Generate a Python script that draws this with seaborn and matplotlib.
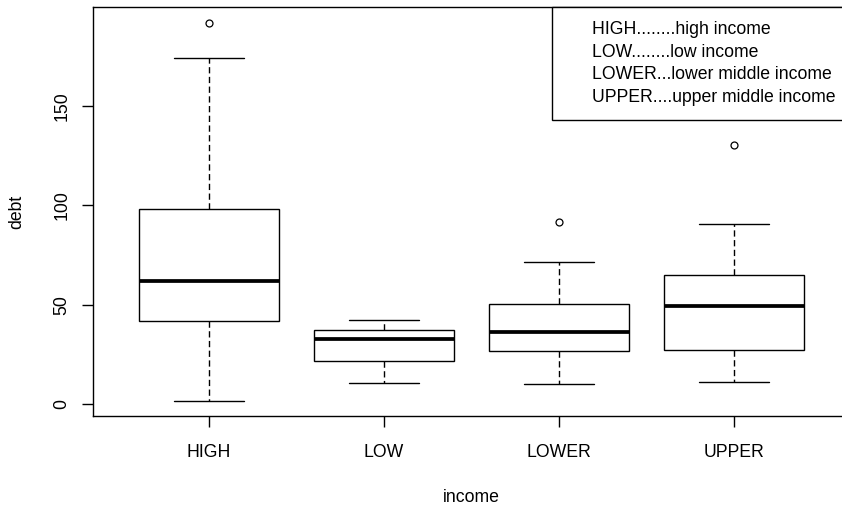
import matplotlib
matplotlib.use("Agg")
import matplotlib.pyplot as plt
from matplotlib.lines import Line2D
import numpy as np
import pandas as pd
import seaborn as sns

# Five-number summaries of debt by income group, plus outlying values
categories = ["HIGH", "LOW", "LOWER", "UPPER"]
lower_whisker = [1.7, 10.7, 10.2, 11.2]
q1 = [42.0, 21.8, 26.7, 27.4]
median = [62.1, 32.6, 36.1, 49.4]
q3 = [98.2, 37.3, 50.2, 65.1]
upper_whisker = [174.3, 42.5, 71.7, 90.7]
outliers = [[192.1], [], [91.7], [130.3]]

legend_lines = [
    "HIGH........high income",
    "LOW........low income",
    "LOWER...lower middle income",
    "UPPER....upper middle income",
]

# Observations per group whose quartiles, whisker ends and outliers
# reproduce the summaries above
rows = []
for i, cat in enumerate(categories):
    vals = [lower_whisker[i], q1[i], q1[i], median[i], median[i],
            q3[i], q3[i], upper_whisker[i]] + outliers[i]
    rows += [{"income": cat, "debt": v} for v in vals]
df = pd.DataFrame(rows)

sns.set_theme(style="white")
plt.rcParams["font.family"] = ["Liberation Sans", "DejaVu Sans"]
plt.rcParams["text.color"] = "black"
plt.rcParams["axes.labelcolor"] = "black"
plt.rcParams["xtick.color"] = "black"
plt.rcParams["ytick.color"] = "black"

fs = 12.7
fig = plt.figure(figsize=(8.42, 5.09), dpi=100)
ax = fig.add_axes([0.1108, 0.1827, 1.0095 - 0.1108, 0.9857 - 0.1827])

sns.boxplot(
    data=df, x="income", y="debt", order=categories, ax=ax,
    color="white", linecolor="black", linewidth=1.0, width=0.8,
    whis=1.5, capwidths=0.4,
    medianprops=dict(linewidth=2.7, color="black"),
    whiskerprops=dict(linestyle=(0, (4.5, 2.5)), color="black", linewidth=1.0),
    capprops=dict(color="black", linewidth=1.0),
    flierprops=dict(marker="o", markersize=5, markerfacecolor="none",
                    markeredgecolor="black", markeredgewidth=0.9),
)

ax.set_xlim(-0.66, 3.66)
ax.set_ylim(-6.0, 199.8)
ax.set_yticks([0, 50, 100, 150])

for side in ["left", "right", "top", "bottom"]:
    ax.spines[side].set_visible(True)
    ax.spines[side].set_color("black")
    ax.spines[side].set_linewidth(1.0)

ax.tick_params(axis="both", which="major", direction="out", length=7.9,
               width=1.0, labelsize=fs, colors="black",
               left=True, bottom=True)
ax.tick_params(axis="x", pad=12)
ax.tick_params(axis="y", pad=8.5, labelrotation=90)
for lab in ax.get_yticklabels():
    lab.set_va("center")

ax.set_xlabel("income", fontsize=fs)
ax.set_ylabel("debt", fontsize=fs)
ax.xaxis.set_label_coords(0.5, -0.178)
ax.yaxis.set_label_coords(-0.09, 0.5)

handles = [Line2D([], [], color="none") for _ in legend_lines]
leg = ax.legend(handles, legend_lines, loc="upper right",
                bbox_to_anchor=(1.0, 1.0), borderaxespad=0.0,
                frameon=True, fancybox=False, framealpha=1.0,
                edgecolor="black", fontsize=fs, handlelength=1.1,
                handletextpad=0.4, borderpad=0.8, labelspacing=0.31)
leg.get_frame().set_linewidth(1.0)

fig.savefig("out.png", dpi=100, facecolor="white")
